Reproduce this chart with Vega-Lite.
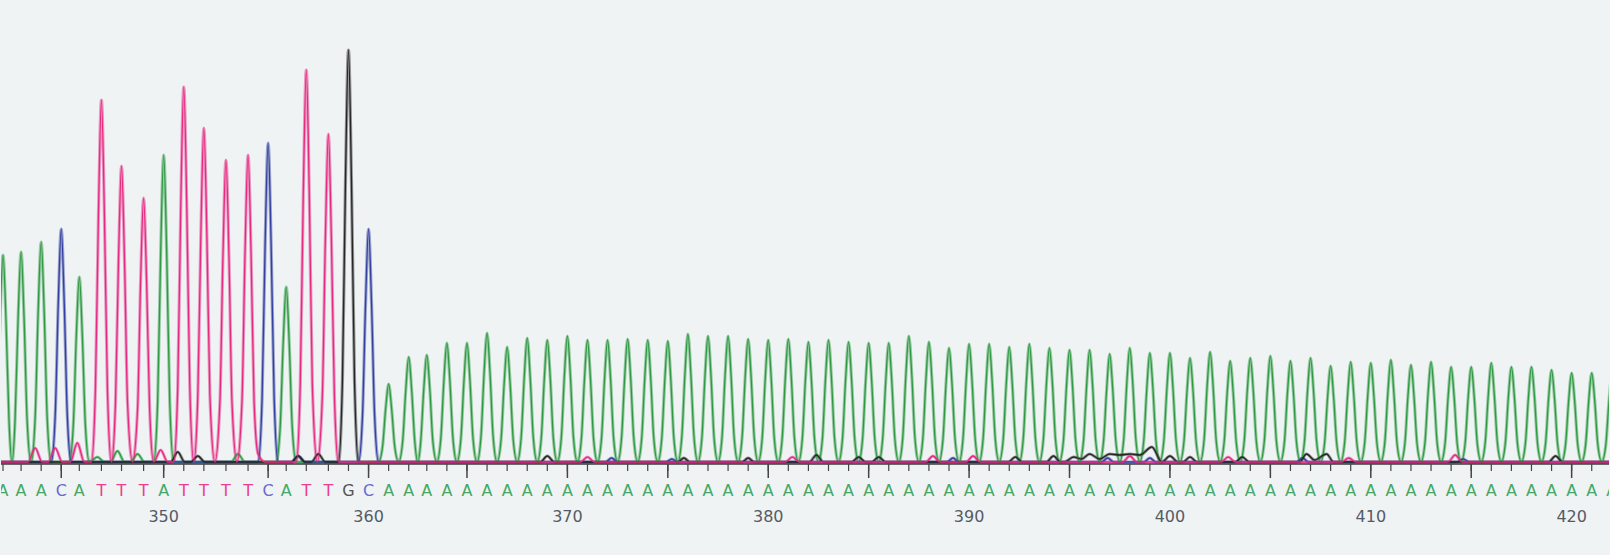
{
  "$schema": "https://vega.github.io/schema/vega-lite/v6.json",
  "width": 1610,
  "height": 555,
  "autosize": {"type": "fit", "contains": "padding"},
  "padding": 0,
  "background": "#eff3f4",
  "config": {"view": {"stroke": null}},
  "datasets": {
    "trace": [
      {"c":"A","x":341.4,"y":0},{"c":"A","x":341.6,"y":41},{"c":"A","x":341.75,"y":141},{"c":"A","x":341.9,"y":207},{"c":"A","x":342.05,"y":141},{"c":"A","x":342.2,"y":41},{"c":"A","x":342.35,"y":0},
      {"c":"A","x":342.5,"y":42},{"c":"A","x":342.65,"y":143},{"c":"A","x":342.8,"y":210},{"c":"A","x":342.95,"y":143},{"c":"A","x":343.1,"y":42},{"c":"A","x":343.3,"y":0},
      {"c":"A","x":343.5,"y":44},{"c":"A","x":343.65,"y":150},{"c":"A","x":343.8,"y":220},{"c":"A","x":343.95,"y":150},{"c":"A","x":344.1,"y":44},{"c":"A","x":344.3,"y":0},
      {"c":"A","x":345.2,"y":0},{"c":"A","x":345.4,"y":37},{"c":"A","x":345.55,"y":126},{"c":"A","x":345.7,"y":185},{"c":"A","x":345.85,"y":126},{"c":"A","x":346.0,"y":37},{"c":"A","x":346.2,"y":0},
      {"c":"A","x":346.6,"y":5},{"c":"A","x":346.95,"y":0},{"c":"A","x":347.25,"y":0},{"c":"A","x":347.6,"y":11},{"c":"A","x":347.95,"y":0},{"c":"A","x":348.25,"y":0},{"c":"A","x":348.6,"y":8},{"c":"A","x":348.95,"y":0},
      {"c":"A","x":349.4,"y":0},{"c":"A","x":349.6,"y":61},{"c":"A","x":349.75,"y":209},{"c":"A","x":349.9,"y":307},{"c":"A","x":350.05,"y":209},{"c":"A","x":350.2,"y":61},{"c":"A","x":350.4,"y":0},
      {"c":"A","x":353.25,"y":0},{"c":"A","x":353.6,"y":8},{"c":"A","x":353.95,"y":0},
      {"c":"A","x":355.5,"y":0},{"c":"A","x":355.7,"y":35},{"c":"A","x":355.85,"y":119},{"c":"A","x":356.0,"y":175},{"c":"A","x":356.15,"y":119},{"c":"A","x":356.3,"y":35},{"c":"A","x":356.5,"y":0},
      {"c":"A","x":360.6,"y":0},{"c":"A","x":360.8,"y":16},{"c":"A","x":360.95,"y":53},{"c":"A","x":361.1,"y":78},{"c":"A","x":361.25,"y":53},{"c":"A","x":361.4,"y":16},{"c":"A","x":361.6,"y":0},
      {"c":"A","x":361.8,"y":21},{"c":"A","x":361.95,"y":71},{"c":"A","x":362.1,"y":105},{"c":"A","x":362.25,"y":71},{"c":"A","x":362.4,"y":21},{"c":"A","x":362.55,"y":0},
      {"c":"A","x":362.7,"y":21},{"c":"A","x":362.85,"y":73},{"c":"A","x":363,"y":107},{"c":"A","x":363.15,"y":73},{"c":"A","x":363.3,"y":21},{"c":"A","x":363.5,"y":0},
      {"c":"A","x":363.7,"y":24},{"c":"A","x":363.85,"y":81},{"c":"A","x":364,"y":119},{"c":"A","x":364.15,"y":81},{"c":"A","x":364.3,"y":24},{"c":"A","x":364.5,"y":0},
      {"c":"A","x":364.7,"y":24},{"c":"A","x":364.85,"y":81},{"c":"A","x":365,"y":119},{"c":"A","x":365.15,"y":81},{"c":"A","x":365.3,"y":24},{"c":"A","x":365.5,"y":0},
      {"c":"A","x":365.7,"y":26},{"c":"A","x":365.85,"y":88},{"c":"A","x":366,"y":129},{"c":"A","x":366.15,"y":88},{"c":"A","x":366.3,"y":26},{"c":"A","x":366.5,"y":0},
      {"c":"A","x":366.7,"y":23},{"c":"A","x":366.85,"y":78},{"c":"A","x":367,"y":115},{"c":"A","x":367.15,"y":78},{"c":"A","x":367.3,"y":23},{"c":"A","x":367.5,"y":0},
      {"c":"A","x":367.7,"y":25},{"c":"A","x":367.85,"y":84},{"c":"A","x":368,"y":124},{"c":"A","x":368.15,"y":84},{"c":"A","x":368.3,"y":25},{"c":"A","x":368.5,"y":0},
      {"c":"A","x":368.7,"y":24},{"c":"A","x":368.85,"y":83},{"c":"A","x":369,"y":122},{"c":"A","x":369.15,"y":83},{"c":"A","x":369.3,"y":24},{"c":"A","x":369.5,"y":0},
      {"c":"A","x":369.7,"y":25},{"c":"A","x":369.85,"y":86},{"c":"A","x":370,"y":126},{"c":"A","x":370.15,"y":86},{"c":"A","x":370.3,"y":25},{"c":"A","x":370.5,"y":0},
      {"c":"A","x":370.7,"y":24},{"c":"A","x":370.85,"y":83},{"c":"A","x":371,"y":122},{"c":"A","x":371.15,"y":83},{"c":"A","x":371.3,"y":24},{"c":"A","x":371.5,"y":0},
      {"c":"A","x":371.7,"y":24},{"c":"A","x":371.85,"y":83},{"c":"A","x":372,"y":122},{"c":"A","x":372.15,"y":83},{"c":"A","x":372.3,"y":24},{"c":"A","x":372.5,"y":0},
      {"c":"A","x":372.7,"y":25},{"c":"A","x":372.85,"y":84},{"c":"A","x":373,"y":123},{"c":"A","x":373.15,"y":84},{"c":"A","x":373.3,"y":25},{"c":"A","x":373.5,"y":0},
      {"c":"A","x":373.7,"y":24},{"c":"A","x":373.85,"y":83},{"c":"A","x":374,"y":122},{"c":"A","x":374.15,"y":83},{"c":"A","x":374.3,"y":24},{"c":"A","x":374.5,"y":0},
      {"c":"A","x":374.7,"y":24},{"c":"A","x":374.85,"y":82},{"c":"A","x":375,"y":121},{"c":"A","x":375.15,"y":82},{"c":"A","x":375.3,"y":24},{"c":"A","x":375.5,"y":0},
      {"c":"A","x":375.7,"y":26},{"c":"A","x":375.85,"y":87},{"c":"A","x":376,"y":128},{"c":"A","x":376.15,"y":87},{"c":"A","x":376.3,"y":26},{"c":"A","x":376.5,"y":0},
      {"c":"A","x":376.7,"y":25},{"c":"A","x":376.85,"y":86},{"c":"A","x":377,"y":126},{"c":"A","x":377.15,"y":86},{"c":"A","x":377.3,"y":25},{"c":"A","x":377.5,"y":0},
      {"c":"A","x":377.7,"y":25},{"c":"A","x":377.85,"y":86},{"c":"A","x":378,"y":126},{"c":"A","x":378.15,"y":86},{"c":"A","x":378.3,"y":25},{"c":"A","x":378.5,"y":0},
      {"c":"A","x":378.7,"y":25},{"c":"A","x":378.85,"y":84},{"c":"A","x":379,"y":123},{"c":"A","x":379.15,"y":84},{"c":"A","x":379.3,"y":25},{"c":"A","x":379.5,"y":0},
      {"c":"A","x":379.7,"y":24},{"c":"A","x":379.85,"y":83},{"c":"A","x":380,"y":122},{"c":"A","x":380.15,"y":83},{"c":"A","x":380.3,"y":24},{"c":"A","x":380.5,"y":0},
      {"c":"A","x":380.7,"y":25},{"c":"A","x":380.85,"y":84},{"c":"A","x":381,"y":123},{"c":"A","x":381.15,"y":84},{"c":"A","x":381.3,"y":25},{"c":"A","x":381.5,"y":0},
      {"c":"A","x":381.7,"y":24},{"c":"A","x":381.85,"y":82},{"c":"A","x":382,"y":120},{"c":"A","x":382.15,"y":82},{"c":"A","x":382.3,"y":24},{"c":"A","x":382.5,"y":0},
      {"c":"A","x":382.7,"y":24},{"c":"A","x":382.85,"y":83},{"c":"A","x":383,"y":122},{"c":"A","x":383.15,"y":83},{"c":"A","x":383.3,"y":24},{"c":"A","x":383.5,"y":0},
      {"c":"A","x":383.7,"y":24},{"c":"A","x":383.85,"y":82},{"c":"A","x":384,"y":120},{"c":"A","x":384.15,"y":82},{"c":"A","x":384.3,"y":24},{"c":"A","x":384.5,"y":0},
      {"c":"A","x":384.7,"y":24},{"c":"A","x":384.85,"y":81},{"c":"A","x":385,"y":119},{"c":"A","x":385.15,"y":81},{"c":"A","x":385.3,"y":24},{"c":"A","x":385.5,"y":0},
      {"c":"A","x":385.7,"y":24},{"c":"A","x":385.85,"y":81},{"c":"A","x":386,"y":119},{"c":"A","x":386.15,"y":81},{"c":"A","x":386.3,"y":24},{"c":"A","x":386.5,"y":0},
      {"c":"A","x":386.7,"y":25},{"c":"A","x":386.85,"y":86},{"c":"A","x":387,"y":126},{"c":"A","x":387.15,"y":86},{"c":"A","x":387.3,"y":25},{"c":"A","x":387.5,"y":0},
      {"c":"A","x":387.7,"y":24},{"c":"A","x":387.85,"y":82},{"c":"A","x":388,"y":120},{"c":"A","x":388.15,"y":82},{"c":"A","x":388.3,"y":24},{"c":"A","x":388.5,"y":0},
      {"c":"A","x":388.7,"y":23},{"c":"A","x":388.85,"y":78},{"c":"A","x":389,"y":114},{"c":"A","x":389.15,"y":78},{"c":"A","x":389.3,"y":23},{"c":"A","x":389.5,"y":0},
      {"c":"A","x":389.7,"y":24},{"c":"A","x":389.85,"y":80},{"c":"A","x":390,"y":118},{"c":"A","x":390.15,"y":80},{"c":"A","x":390.3,"y":24},{"c":"A","x":390.5,"y":0},
      {"c":"A","x":390.7,"y":24},{"c":"A","x":390.85,"y":80},{"c":"A","x":391,"y":118},{"c":"A","x":391.15,"y":80},{"c":"A","x":391.3,"y":24},{"c":"A","x":391.5,"y":0},
      {"c":"A","x":391.7,"y":23},{"c":"A","x":391.85,"y":78},{"c":"A","x":392,"y":115},{"c":"A","x":392.15,"y":78},{"c":"A","x":392.3,"y":23},{"c":"A","x":392.5,"y":0},
      {"c":"A","x":392.7,"y":24},{"c":"A","x":392.85,"y":80},{"c":"A","x":393,"y":118},{"c":"A","x":393.15,"y":80},{"c":"A","x":393.3,"y":24},{"c":"A","x":393.5,"y":0},
      {"c":"A","x":393.7,"y":23},{"c":"A","x":393.85,"y":78},{"c":"A","x":394,"y":114},{"c":"A","x":394.15,"y":78},{"c":"A","x":394.3,"y":23},{"c":"A","x":394.5,"y":0},
      {"c":"A","x":394.7,"y":22},{"c":"A","x":394.85,"y":76},{"c":"A","x":395,"y":112},{"c":"A","x":395.15,"y":76},{"c":"A","x":395.3,"y":22},{"c":"A","x":395.5,"y":0},
      {"c":"A","x":395.7,"y":22},{"c":"A","x":395.85,"y":76},{"c":"A","x":396,"y":112},{"c":"A","x":396.15,"y":76},{"c":"A","x":396.3,"y":22},{"c":"A","x":396.5,"y":0},
      {"c":"A","x":396.7,"y":22},{"c":"A","x":396.85,"y":73},{"c":"A","x":397,"y":108},{"c":"A","x":397.15,"y":73},{"c":"A","x":397.3,"y":22},{"c":"A","x":397.5,"y":0},
      {"c":"A","x":397.7,"y":23},{"c":"A","x":397.85,"y":78},{"c":"A","x":398,"y":114},{"c":"A","x":398.15,"y":78},{"c":"A","x":398.3,"y":23},{"c":"A","x":398.5,"y":0},
      {"c":"A","x":398.7,"y":22},{"c":"A","x":398.85,"y":74},{"c":"A","x":399,"y":109},{"c":"A","x":399.15,"y":74},{"c":"A","x":399.3,"y":22},{"c":"A","x":399.5,"y":0},
      {"c":"A","x":399.7,"y":22},{"c":"A","x":399.85,"y":74},{"c":"A","x":400,"y":109},{"c":"A","x":400.15,"y":74},{"c":"A","x":400.3,"y":22},{"c":"A","x":400.5,"y":0},
      {"c":"A","x":400.7,"y":21},{"c":"A","x":400.85,"y":71},{"c":"A","x":401,"y":104},{"c":"A","x":401.15,"y":71},{"c":"A","x":401.3,"y":21},{"c":"A","x":401.5,"y":0},
      {"c":"A","x":401.7,"y":22},{"c":"A","x":401.85,"y":75},{"c":"A","x":402,"y":110},{"c":"A","x":402.15,"y":75},{"c":"A","x":402.3,"y":22},{"c":"A","x":402.5,"y":0},
      {"c":"A","x":402.7,"y":20},{"c":"A","x":402.85,"y":69},{"c":"A","x":403,"y":101},{"c":"A","x":403.15,"y":69},{"c":"A","x":403.3,"y":20},{"c":"A","x":403.5,"y":0},
      {"c":"A","x":403.7,"y":21},{"c":"A","x":403.85,"y":71},{"c":"A","x":404,"y":104},{"c":"A","x":404.15,"y":71},{"c":"A","x":404.3,"y":21},{"c":"A","x":404.5,"y":0},
      {"c":"A","x":404.7,"y":21},{"c":"A","x":404.85,"y":72},{"c":"A","x":405,"y":106},{"c":"A","x":405.15,"y":72},{"c":"A","x":405.3,"y":21},{"c":"A","x":405.5,"y":0},
      {"c":"A","x":405.7,"y":20},{"c":"A","x":405.85,"y":69},{"c":"A","x":406,"y":101},{"c":"A","x":406.15,"y":69},{"c":"A","x":406.3,"y":20},{"c":"A","x":406.5,"y":0},
      {"c":"A","x":406.7,"y":21},{"c":"A","x":406.85,"y":71},{"c":"A","x":407,"y":104},{"c":"A","x":407.15,"y":71},{"c":"A","x":407.3,"y":21},{"c":"A","x":407.5,"y":0},
      {"c":"A","x":407.7,"y":19},{"c":"A","x":407.85,"y":65},{"c":"A","x":408,"y":96},{"c":"A","x":408.15,"y":65},{"c":"A","x":408.3,"y":19},{"c":"A","x":408.5,"y":0},
      {"c":"A","x":408.7,"y":20},{"c":"A","x":408.85,"y":68},{"c":"A","x":409,"y":100},{"c":"A","x":409.15,"y":68},{"c":"A","x":409.3,"y":20},{"c":"A","x":409.5,"y":0},
      {"c":"A","x":409.7,"y":20},{"c":"A","x":409.85,"y":67},{"c":"A","x":410,"y":99},{"c":"A","x":410.15,"y":67},{"c":"A","x":410.3,"y":20},{"c":"A","x":410.5,"y":0},
      {"c":"A","x":410.7,"y":20},{"c":"A","x":410.85,"y":69},{"c":"A","x":411,"y":102},{"c":"A","x":411.15,"y":69},{"c":"A","x":411.3,"y":20},{"c":"A","x":411.5,"y":0},
      {"c":"A","x":411.7,"y":19},{"c":"A","x":411.85,"y":66},{"c":"A","x":412,"y":97},{"c":"A","x":412.15,"y":66},{"c":"A","x":412.3,"y":19},{"c":"A","x":412.5,"y":0},
      {"c":"A","x":412.7,"y":20},{"c":"A","x":412.85,"y":68},{"c":"A","x":413,"y":100},{"c":"A","x":413.15,"y":68},{"c":"A","x":413.3,"y":20},{"c":"A","x":413.5,"y":0},
      {"c":"A","x":413.7,"y":19},{"c":"A","x":413.85,"y":65},{"c":"A","x":414,"y":95},{"c":"A","x":414.15,"y":65},{"c":"A","x":414.3,"y":19},{"c":"A","x":414.5,"y":0},
      {"c":"A","x":414.7,"y":19},{"c":"A","x":414.85,"y":65},{"c":"A","x":415,"y":95},{"c":"A","x":415.15,"y":65},{"c":"A","x":415.3,"y":19},{"c":"A","x":415.5,"y":0},
      {"c":"A","x":415.7,"y":20},{"c":"A","x":415.85,"y":67},{"c":"A","x":416,"y":99},{"c":"A","x":416.15,"y":67},{"c":"A","x":416.3,"y":20},{"c":"A","x":416.5,"y":0},
      {"c":"A","x":416.7,"y":19},{"c":"A","x":416.85,"y":65},{"c":"A","x":417,"y":95},{"c":"A","x":417.15,"y":65},{"c":"A","x":417.3,"y":19},{"c":"A","x":417.5,"y":0},
      {"c":"A","x":417.7,"y":19},{"c":"A","x":417.85,"y":65},{"c":"A","x":418,"y":95},{"c":"A","x":418.15,"y":65},{"c":"A","x":418.3,"y":19},{"c":"A","x":418.5,"y":0},
      {"c":"A","x":418.7,"y":18},{"c":"A","x":418.85,"y":63},{"c":"A","x":419,"y":92},{"c":"A","x":419.15,"y":63},{"c":"A","x":419.3,"y":18},{"c":"A","x":419.5,"y":0},
      {"c":"A","x":419.7,"y":18},{"c":"A","x":419.85,"y":61},{"c":"A","x":420,"y":89},{"c":"A","x":420.15,"y":61},{"c":"A","x":420.3,"y":18},{"c":"A","x":420.5,"y":0},
      {"c":"A","x":420.7,"y":18},{"c":"A","x":420.85,"y":61},{"c":"A","x":421,"y":89},{"c":"A","x":421.15,"y":61},{"c":"A","x":421.3,"y":18},{"c":"A","x":421.5,"y":0},
      {"c":"A","x":421.7,"y":17},{"c":"A","x":421.85,"y":58},{"c":"A","x":422,"y":86},{"c":"A","x":422.15,"y":58},{"c":"A","x":422.3,"y":17},{"c":"A","x":422.5,"y":0},

      {"c":"C","x":341.4,"y":0},{"c":"C","x":344.3,"y":0},{"c":"C","x":344.5,"y":47},{"c":"C","x":344.65,"y":158},{"c":"C","x":344.8,"y":233},{"c":"C","x":344.95,"y":158},{"c":"C","x":345.1,"y":47},{"c":"C","x":345.3,"y":0},
      {"c":"C","x":354.6,"y":0},{"c":"C","x":354.8,"y":64},{"c":"C","x":354.95,"y":217},{"c":"C","x":355.1,"y":319},{"c":"C","x":355.25,"y":217},{"c":"C","x":355.4,"y":64},{"c":"C","x":355.6,"y":0},
      {"c":"C","x":356.3,"y":0},{"c":"C","x":356.6,"y":6},{"c":"C","x":356.9,"y":0},
      {"c":"C","x":359.6,"y":0},{"c":"C","x":359.8,"y":47},{"c":"C","x":359.95,"y":158},{"c":"C","x":360.1,"y":233},{"c":"C","x":360.25,"y":158},{"c":"C","x":360.4,"y":47},{"c":"C","x":360.6,"y":0},
      {"c":"C","x":371.9,"y":0},{"c":"C","x":372.2,"y":4},{"c":"C","x":372.5,"y":0},
      {"c":"C","x":374.9,"y":0},{"c":"C","x":375.2,"y":3},{"c":"C","x":375.5,"y":0},
      {"c":"C","x":388.9,"y":0},{"c":"C","x":389.2,"y":4},{"c":"C","x":389.5,"y":0},
      {"c":"C","x":396.6,"y":0},{"c":"C","x":396.9,"y":4},{"c":"C","x":397.2,"y":0},
      {"c":"C","x":398.7,"y":0},{"c":"C","x":399.0,"y":4},{"c":"C","x":399.3,"y":0},
      {"c":"C","x":406.3,"y":0},{"c":"C","x":406.6,"y":4},{"c":"C","x":406.9,"y":0},
      {"c":"C","x":414.3,"y":0},{"c":"C","x":414.6,"y":3},{"c":"C","x":414.9,"y":0},
      {"c":"C","x":422.5,"y":0},

      {"c":"G","x":341.4,"y":0},
      {"c":"G","x":350.25,"y":0},{"c":"G","x":350.6,"y":10},{"c":"G","x":350.95,"y":0},
      {"c":"G","x":351.25,"y":0},{"c":"G","x":351.6,"y":6},{"c":"G","x":351.95,"y":0},
      {"c":"G","x":356.25,"y":0},{"c":"G","x":356.6,"y":6},{"c":"G","x":356.95,"y":0},
      {"c":"G","x":357.25,"y":0},{"c":"G","x":357.6,"y":8},{"c":"G","x":357.95,"y":0},
      {"c":"G","x":358.6,"y":0},{"c":"G","x":358.8,"y":82},{"c":"G","x":358.95,"y":280},{"c":"G","x":359.1,"y":412},{"c":"G","x":359.25,"y":280},{"c":"G","x":359.4,"y":82},{"c":"G","x":359.6,"y":0},
      {"c":"G","x":368.65,"y":0},{"c":"G","x":369.0,"y":6},{"c":"G","x":369.35,"y":0},
      {"c":"G","x":375.5,"y":0},{"c":"G","x":375.8,"y":4},{"c":"G","x":376.1,"y":0},
      {"c":"G","x":378.7,"y":0},{"c":"G","x":379.0,"y":4},{"c":"G","x":379.3,"y":0},
      {"c":"G","x":382.05,"y":0},{"c":"G","x":382.4,"y":7},{"c":"G","x":382.75,"y":0},
      {"c":"G","x":384.15,"y":0},{"c":"G","x":384.5,"y":5},{"c":"G","x":384.85,"y":0},
      {"c":"G","x":385.15,"y":0},{"c":"G","x":385.5,"y":5},{"c":"G","x":385.85,"y":0},
      {"c":"G","x":391.95,"y":0},{"c":"G","x":392.3,"y":5},{"c":"G","x":392.65,"y":0},
      {"c":"G","x":393.85,"y":0},{"c":"G","x":394.2,"y":6},{"c":"G","x":394.55,"y":0},
      {"c":"G","x":394.75,"y":0},{"c":"G","x":395.2,"y":5},{"c":"G","x":395.6,"y":3},{"c":"G","x":396.0,"y":8},{"c":"G","x":396.5,"y":3},{"c":"G","x":397.0,"y":8},{"c":"G","x":397.5,"y":7},{"c":"G","x":398.0,"y":8},{"c":"G","x":398.5,"y":7},{"c":"G","x":399.1,"y":15},{"c":"G","x":399.6,"y":0},
      {"c":"G","x":400.0,"y":6},{"c":"G","x":400.4,"y":0},{"c":"G","x":400.65,"y":0},{"c":"G","x":401.0,"y":5},{"c":"G","x":401.35,"y":0},
      {"c":"G","x":403.25,"y":0},{"c":"G","x":403.6,"y":5},{"c":"G","x":403.95,"y":0},
      {"c":"G","x":406.45,"y":0},{"c":"G","x":406.8,"y":8},{"c":"G","x":407.2,"y":2},{"c":"G","x":407.8,"y":8},{"c":"G","x":408.15,"y":0},
      {"c":"G","x":418.85,"y":0},{"c":"G","x":419.2,"y":6},{"c":"G","x":419.55,"y":0},
      {"c":"G","x":422.5,"y":0},

      {"c":"T","x":341.4,"y":0},
      {"c":"T","x":343.15,"y":0},{"c":"T","x":343.5,"y":14},{"c":"T","x":343.85,"y":0},
      {"c":"T","x":344.15,"y":0},{"c":"T","x":344.5,"y":14},{"c":"T","x":344.85,"y":0},
      {"c":"T","x":345.25,"y":0},{"c":"T","x":345.6,"y":19},{"c":"T","x":345.95,"y":0},
      {"c":"T","x":346.3,"y":0},{"c":"T","x":346.5,"y":72},{"c":"T","x":346.65,"y":246},{"c":"T","x":346.8,"y":362},{"c":"T","x":346.95,"y":246},{"c":"T","x":347.1,"y":72},{"c":"T","x":347.3,"y":0},
      {"c":"T","x":347.5,"y":59},{"c":"T","x":347.65,"y":201},{"c":"T","x":347.8,"y":296},{"c":"T","x":347.95,"y":201},{"c":"T","x":348.1,"y":59},{"c":"T","x":348.35,"y":0},
      {"c":"T","x":348.6,"y":53},{"c":"T","x":348.75,"y":180},{"c":"T","x":348.9,"y":264},{"c":"T","x":349.05,"y":180},{"c":"T","x":349.2,"y":53},{"c":"T","x":349.4,"y":0},
      {"c":"T","x":349.75,"y":12},{"c":"T","x":350.1,"y":0},
      {"c":"T","x":350.4,"y":0},{"c":"T","x":350.6,"y":75},{"c":"T","x":350.75,"y":255},{"c":"T","x":350.9,"y":375},{"c":"T","x":351.05,"y":255},{"c":"T","x":351.2,"y":75},{"c":"T","x":351.4,"y":0},
      {"c":"T","x":351.6,"y":67},{"c":"T","x":351.75,"y":227},{"c":"T","x":351.9,"y":334},{"c":"T","x":352.05,"y":227},{"c":"T","x":352.2,"y":67},{"c":"T","x":352.45,"y":0},
      {"c":"T","x":352.7,"y":60},{"c":"T","x":352.85,"y":205},{"c":"T","x":353.0,"y":302},{"c":"T","x":353.15,"y":205},{"c":"T","x":353.3,"y":60},{"c":"T","x":353.55,"y":0},
      {"c":"T","x":353.8,"y":61},{"c":"T","x":353.95,"y":209},{"c":"T","x":354.1,"y":307},{"c":"T","x":354.25,"y":209},{"c":"T","x":354.4,"y":61},{"c":"T","x":354.6,"y":8},{"c":"T","x":354.95,"y":0},
      {"c":"T","x":356.5,"y":0},{"c":"T","x":356.7,"y":78},{"c":"T","x":356.85,"y":267},{"c":"T","x":357.0,"y":392},{"c":"T","x":357.15,"y":267},{"c":"T","x":357.3,"y":78},{"c":"T","x":357.55,"y":0},
      {"c":"T","x":357.8,"y":66},{"c":"T","x":357.95,"y":223},{"c":"T","x":358.1,"y":328},{"c":"T","x":358.25,"y":223},{"c":"T","x":358.4,"y":66},{"c":"T","x":358.6,"y":0},
      {"c":"T","x":370.65,"y":0},{"c":"T","x":371.0,"y":5},{"c":"T","x":371.35,"y":0},
      {"c":"T","x":380.85,"y":0},{"c":"T","x":381.2,"y":5},{"c":"T","x":381.55,"y":0},
      {"c":"T","x":387.85,"y":0},{"c":"T","x":388.2,"y":6},{"c":"T","x":388.55,"y":0},
      {"c":"T","x":389.85,"y":0},{"c":"T","x":390.2,"y":6},{"c":"T","x":390.55,"y":0},
      {"c":"T","x":397.65,"y":0},{"c":"T","x":398.0,"y":6},{"c":"T","x":398.35,"y":0},
      {"c":"T","x":402.55,"y":0},{"c":"T","x":402.9,"y":5},{"c":"T","x":403.25,"y":0},
      {"c":"T","x":408.55,"y":0},{"c":"T","x":408.9,"y":4},{"c":"T","x":409.25,"y":0},
      {"c":"T","x":413.85,"y":0},{"c":"T","x":414.2,"y":7},{"c":"T","x":414.55,"y":0},
      {"c":"T","x":422.5,"y":0}
    ],
    "calls": [
      {"p":342,"b":"A","x":341.9},{"p":343,"b":"A","x":342.8},{"p":344,"b":"A","x":343.8},{"p":345,"b":"C","x":344.8},
      {"p":346,"b":"A","x":345.7},{"p":347,"b":"T","x":346.8},{"p":348,"b":"T","x":347.8},{"p":349,"b":"T","x":348.9},
      {"p":350,"b":"A","x":349.9},{"p":351,"b":"T","x":350.9},{"p":352,"b":"T","x":351.9},{"p":353,"b":"T","x":353.0},
      {"p":354,"b":"T","x":354.1},{"p":355,"b":"C","x":355.1},{"p":356,"b":"A","x":356.0},{"p":357,"b":"T","x":357.0},
      {"p":358,"b":"T","x":358.1},{"p":359,"b":"G","x":359.1},{"p":360,"b":"C","x":360.1},{"p":361,"b":"A","x":361.1},
      {"p":362,"b":"A","x":362.1},{"p":363,"b":"A","x":363},{"p":364,"b":"A","x":364},{"p":365,"b":"A","x":365},
      {"p":366,"b":"A","x":366},{"p":367,"b":"A","x":367},{"p":368,"b":"A","x":368},{"p":369,"b":"A","x":369},
      {"p":370,"b":"A","x":370},{"p":371,"b":"A","x":371},{"p":372,"b":"A","x":372},{"p":373,"b":"A","x":373},
      {"p":374,"b":"A","x":374},{"p":375,"b":"A","x":375},{"p":376,"b":"A","x":376},{"p":377,"b":"A","x":377},
      {"p":378,"b":"A","x":378},{"p":379,"b":"A","x":379},{"p":380,"b":"A","x":380},{"p":381,"b":"A","x":381},
      {"p":382,"b":"A","x":382},{"p":383,"b":"A","x":383},{"p":384,"b":"A","x":384},{"p":385,"b":"A","x":385},
      {"p":386,"b":"A","x":386},{"p":387,"b":"A","x":387},{"p":388,"b":"A","x":388},{"p":389,"b":"A","x":389},
      {"p":390,"b":"A","x":390},{"p":391,"b":"A","x":391},{"p":392,"b":"A","x":392},{"p":393,"b":"A","x":393},
      {"p":394,"b":"A","x":394},{"p":395,"b":"A","x":395},{"p":396,"b":"A","x":396},{"p":397,"b":"A","x":397},
      {"p":398,"b":"A","x":398},{"p":399,"b":"A","x":399},{"p":400,"b":"A","x":400},{"p":401,"b":"A","x":401},
      {"p":402,"b":"A","x":402},{"p":403,"b":"A","x":403},{"p":404,"b":"A","x":404},{"p":405,"b":"A","x":405},
      {"p":406,"b":"A","x":406},{"p":407,"b":"A","x":407},{"p":408,"b":"A","x":408},{"p":409,"b":"A","x":409},
      {"p":410,"b":"A","x":410},{"p":411,"b":"A","x":411},{"p":412,"b":"A","x":412},{"p":413,"b":"A","x":413},
      {"p":414,"b":"A","x":414},{"p":415,"b":"A","x":415},{"p":416,"b":"A","x":416},{"p":417,"b":"A","x":417},
      {"p":418,"b":"A","x":418},{"p":419,"b":"A","x":419},{"p":420,"b":"A","x":420},{"p":421,"b":"A","x":421},
      {"p":422,"b":"A","x":422}
    ]
  },
  "resolve": {"scale": {"color": "independent"}},
  "layer": [
    {
      "data": {"name": "trace"},
      "mark": {"type": "line", "interpolate": "monotone", "strokeWidth": 3.2, "strokeOpacity": 0.45, "clip": true},
      "encoding": {
        "x": {"field": "x", "type": "quantitative", "scale": {"domain": [341.8, 421.86], "nice": false, "zero": false}, "axis": null},
        "y": {"field": "y", "type": "quantitative", "scale": {"domain": [-93, 462], "nice": false, "zero": false}, "axis": null},
        "color": {"field": "c", "type": "nominal", "scale": {"domain": ["A", "C", "G", "T"], "range": ["#2f9a42", "#33409f", "#262626", "#e62a82"]}, "legend": null}
      }
    },
    {
      "data": {"name": "trace"},
      "mark": {"type": "line", "interpolate": "monotone", "strokeWidth": 1.3, "clip": true},
      "encoding": {
        "x": {"field": "x", "type": "quantitative", "scale": {"domain": [341.8, 421.86], "nice": false, "zero": false}, "axis": null},
        "y": {"field": "y", "type": "quantitative", "scale": {"domain": [-93, 462], "nice": false, "zero": false}, "axis": null},
        "color": {"field": "c", "type": "nominal", "scale": {"domain": ["A", "C", "G", "T"], "range": ["#2f9a42", "#33409f", "#262626", "#e62a82"]}, "legend": null}
      }
    },
    {
      "data": {"values": [{}]},
      "mark": {"type": "rule", "color": "#3a3a3a", "strokeWidth": 1.5},
      "encoding": {
        "y": {"datum": -2, "type": "quantitative", "scale": {"domain": [-93, 462], "nice": false, "zero": false}, "axis": null}
      }
    },
    {
      "data": {"name": "calls"},
      "mark": {"type": "rule", "color": "#444444", "strokeWidth": 1.2, "clip": true},
      "encoding": {
        "x": {"field": "x", "type": "quantitative", "scale": {"domain": [341.8, 421.86], "nice": false, "zero": false}, "axis": null},
        "y": {"datum": -2, "type": "quantitative", "scale": {"domain": [-93, 462], "nice": false, "zero": false}, "axis": null},
        "y2": {"datum": -9}
      }
    },
    {
      "data": {"name": "calls"},
      "transform": [{"filter": "datum.p % 5 == 0"}],
      "mark": {"type": "rule", "color": "#444444", "strokeWidth": 1.5, "clip": true},
      "encoding": {
        "x": {"field": "x", "type": "quantitative", "scale": {"domain": [341.8, 421.86], "nice": false, "zero": false}, "axis": null},
        "y": {"datum": -2, "type": "quantitative", "scale": {"domain": [-93, 462], "nice": false, "zero": false}, "axis": null},
        "y2": {"datum": -16}
      }
    },
    {
      "data": {"name": "calls"},
      "mark": {"type": "text", "font": "DejaVu Sans", "fontSize": 16, "baseline": "middle", "align": "center", "clip": true},
      "encoding": {
        "x": {"field": "x", "type": "quantitative", "scale": {"domain": [341.8, 421.86], "nice": false, "zero": false}, "axis": null},
        "y": {"datum": -29, "type": "quantitative", "scale": {"domain": [-93, 462], "nice": false, "zero": false}, "axis": null},
        "text": {"field": "b", "type": "nominal"},
        "color": {"field": "b", "type": "nominal", "scale": {"domain": ["A", "C", "G", "T"], "range": ["#45a865", "#6a6ad2", "#555555", "#ec3d8f"]}, "legend": null}
      }
    },
    {
      "data": {"name": "calls"},
      "transform": [{"filter": "datum.p % 10 == 0"}],
      "mark": {"type": "text", "font": "DejaVu Sans", "fontSize": 16, "baseline": "middle", "align": "center", "color": "#555b66"},
      "encoding": {
        "x": {"field": "x", "type": "quantitative", "scale": {"domain": [341.8, 421.86], "nice": false, "zero": false}, "axis": null},
        "y": {"datum": -55, "type": "quantitative", "scale": {"domain": [-93, 462], "nice": false, "zero": false}, "axis": null},
        "text": {"field": "p", "type": "quantitative"}
      }
    }
  ]
}
